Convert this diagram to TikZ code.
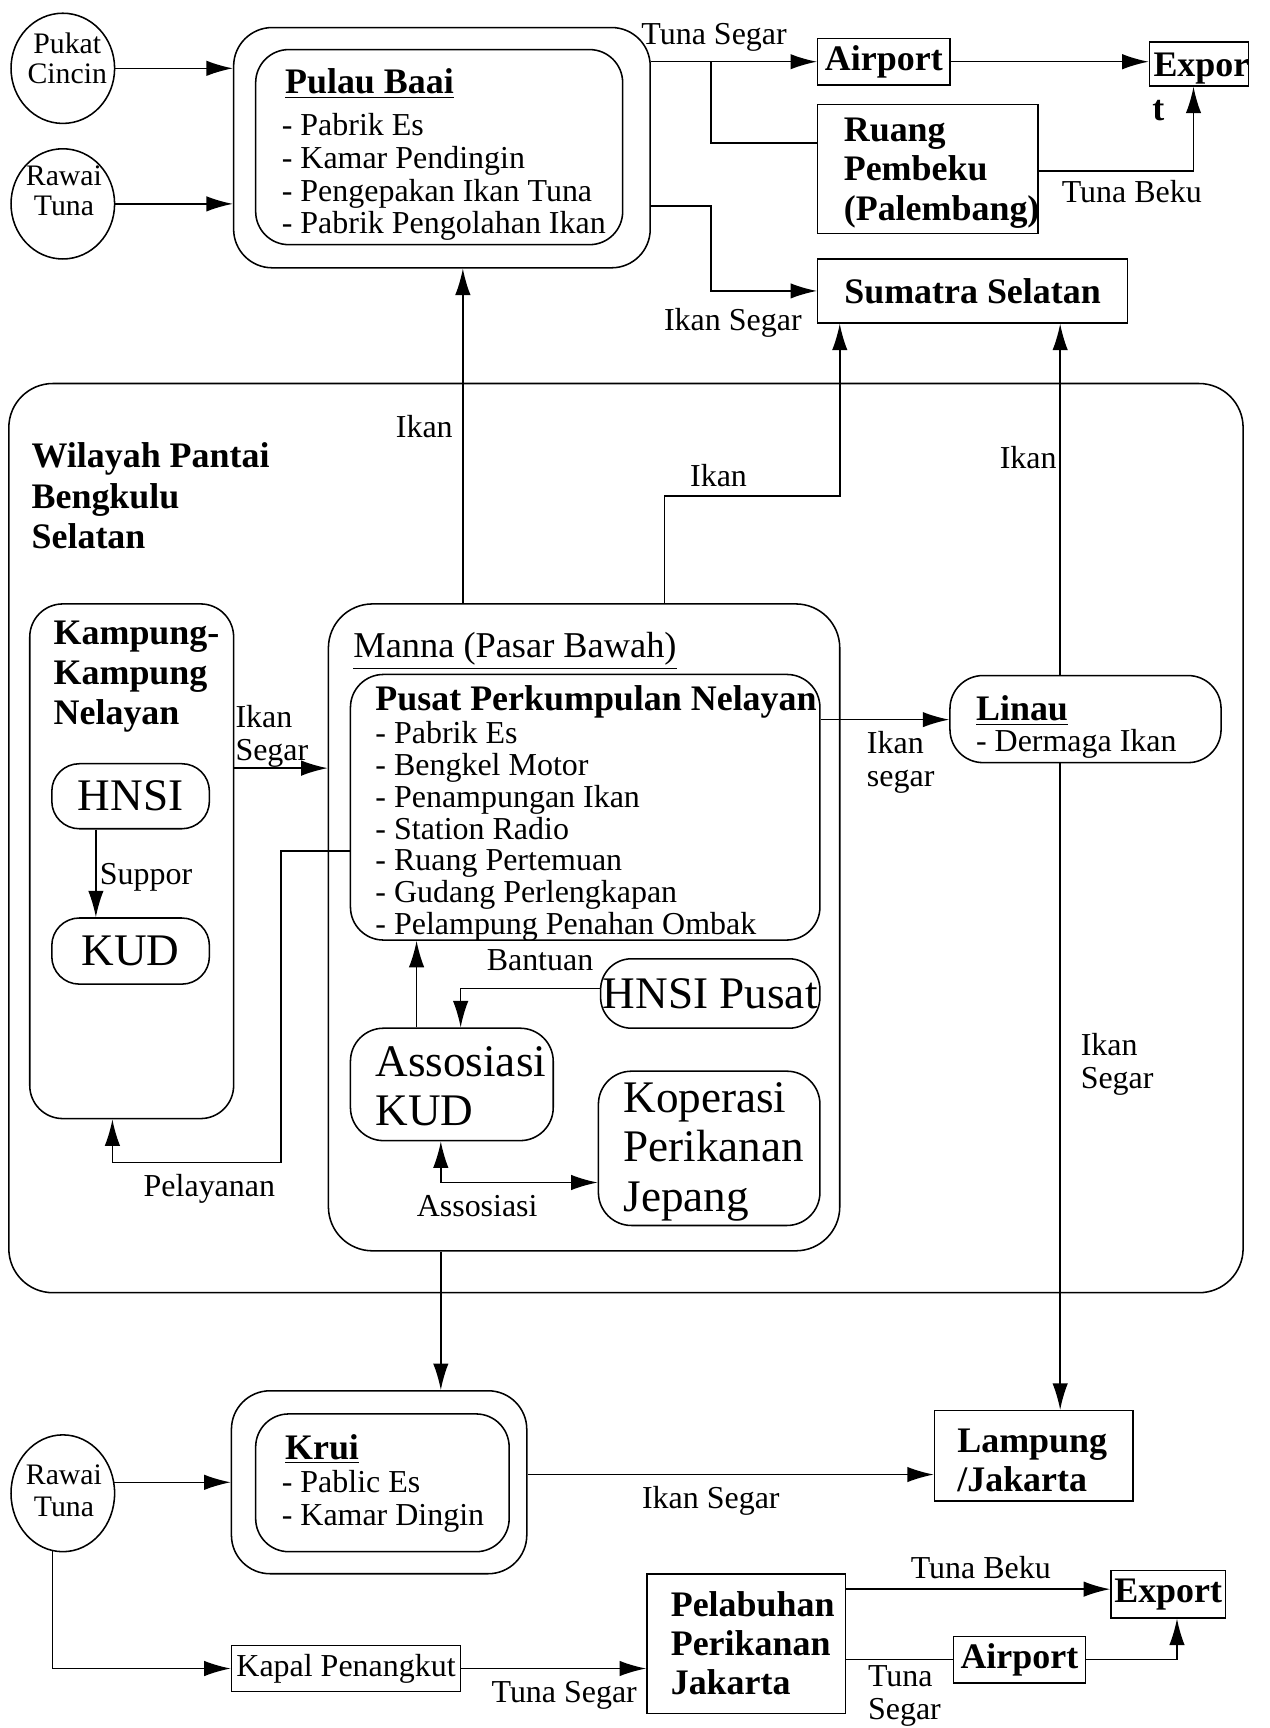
\documentclass[tikz,border=0pt]{standalone}
\usepackage{fontspec}
\setmainfont{Liberation Serif}
\usetikzlibrary{arrows.meta,shapes.geometric}

\begin{document}
\begin{tikzpicture}[x=0.5pt,y=-0.5pt,line width=0.7pt,
  arr/.style={-{Latex[length=12pt,width=7pt]}},
  lbl/.style={font=\fontsize{14.5}{15}\selectfont, inner sep=0pt, text height=10pt, text depth=3pt},
  mlbl/.style={font=\fontsize{14.5}{15}\selectfont, inner sep=0pt, align=left},
  bld/.style={font=\fontsize{16.3}{17.8}\selectfont\bfseries, inner sep=0pt, align=left},
  big/.style={font=\fontsize{20.5}{22.5}\selectfont, inner sep=0pt, align=left},
  rbox/.style={draw, rounded corners=15pt, inner sep=0pt},
  sbox/.style={draw, rectangle, inner sep=0pt},
  oval/.style={draw, ellipse, inner sep=0pt, minimum width=47pt, minimum height=50pt}]
  \useasboundingbox (0,0) rectangle (1152,1568);

  % Draw the coastal region
  \node[rbox, rounded corners=20pt, minimum width=560pt, minimum height=412.5pt] (wilayah) at (568,760.5) {};
  \node[bld, font=\fontsize{16.3}{18.5}\selectfont\bfseries, anchor=west] (wilayahTxt) at (28,450) {Wilayah Pantai\\Bengkulu\\Selatan};

  % Pulau Baai and what feeds it
  \node[oval] (pukat) at (57,62) {};
  \node[mlbl, font=\fontsize{13.5}{13.5}\selectfont, align=center] (pukatTxt) at (61,53) {Pukat\\Cincin};
  \node[oval] (rawaiA) at (57,185) {};
  \node[mlbl, font=\fontsize{13.5}{13.5}\selectfont, align=center] (rawaiATxt) at (58,173) {Rawai\\Tuna};
  \node[rbox, rounded corners=17.5pt, minimum width=189pt, minimum height=109pt] (pulauOut) at (401,134) {};
  \node[rbox, minimum width=166.5pt, minimum height=88.5pt] (pulauIn) at (398.5,133.5) {};
  \node[bld, anchor=west] (pulauTxt) at (258,76) {\underline{Pulau Baai}};
  \foreach \fac [count=\i] in {Pabrik Es, Kamar Pendingin, Pengepakan Ikan Tuna, Pabrik Pengolahan Ikan}
    \node[lbl, anchor=west] (pulauItem\i) at (255,{116+29.7*(\i-1)}) {- \fac};
  \draw[arr] (pukat) -- (pukat -| pulauOut.west);
  \draw[arr] (rawaiA) -- (rawaiA -| pulauOut.west);

  % Top right boxes
  \node[sbox, bld, minimum width=60pt, minimum height=21pt] (airportA) at (802,56) {Airport};
  \node[sbox, minimum width=45pt, minimum height=20pt] (exporA) at (1088,58) {};
  \node[bld, anchor=west] (exporTxt) at (1046,62) {Expor};
  \node[bld] (exporT) at (1051,100) {t};
  \node[sbox, minimum width=100pt, minimum height=58.5pt] (ruang) at (842,153.5) {};
  \node[bld, anchor=west] (ruangTxt) at (765,157) {Ruang\\Pembeku\\(Palembang)};
  \node[sbox, bld, minimum width=140.5pt, minimum height=29pt] (sumatra) at (882.5,264) {Sumatra Selatan};

  \draw[arr] (pulauOut.east |- airportA) -- (airportA.west);
  \node[lbl] (tunaSegarA) at (648,33) {Tuna Segar};
  \draw (airportA.west -| 645,0) |- (ruang.west |- 0,130);
  \draw[arr] (airportA.east) -- (airportA.east -| exporA.west);
  \draw[arr] (ruang.east |- 0,155) -| (exporA.south -| 1083,0);
  \node[lbl] (tunaBekuA) at (1027,177) {Tuna Beku};
  \draw[arr] (pulauOut.east |- 0,187) -| (sumatra.west -| 645,0) -- (sumatra.west);
  \node[lbl] (ikanSegarA) at (665,293) {Ikan Segar};

  % Kampung nelayan
  \node[rbox, minimum width=92.5pt, minimum height=233.5pt] (kampung) at (119.5,781.5) {};
  \node[bld, font=\fontsize{16.3}{18}\selectfont\bfseries, anchor=west] (kampungTxt) at (48,614) {Kampung-\\Kampung\\Nelayan};
  \node[rbox, rounded corners=12.5pt, big, minimum width=71.5pt, minimum height=29.5pt] (hnsi) at (118.5,722.5) {HNSI};
  \node[rbox, rounded corners=12.5pt, big, minimum width=71.5pt, minimum height=30pt] (kud) at (118.5,863) {KUD};
  \draw[arr] (hnsi.south -| 87,0) -- (kud.north -| 87,0);
  \node[lbl, anchor=west] (supporTxt) at (90,796) {Suppor};

  % Manna
  \node[rbox, rounded corners=20pt, minimum width=232pt, minimum height=293.5pt] (manna) at (530,841.5) {};
  \node[lbl, font=\fontsize{16.5}{18}\selectfont, anchor=west] (mannaTxt) at (320,590) {\underline{Manna (Pasar Bawah)}};
  \node[rbox, minimum width=213pt, minimum height=120.5pt] (pusat) at (531,732.5) {};
  \node[bld, anchor=west] (pusatTxt) at (340,637) {Pusat Perkumpulan Nelayan};
  \foreach \fac [count=\i] in {Pabrik Es, Bengkel Motor, Penampungan Ikan, Station Radio, Ruang Pertemuan, Gudang Perlengkapan, Pelampung Penahan Ombak}
    \node[lbl, anchor=west] (pusatItem\i) at (340,{668+28.8*(\i-1)}) {- \fac};
  \node[rbox, rounded corners=14pt, big, minimum width=99.5pt, minimum height=31.5pt] (hnsiPusat) at (644.5,901.5) {HNSI Pusat};
  \node[rbox, minimum width=92pt, minimum height=51pt] (assos) at (410,984) {};
  \node[big, anchor=west] (assosTxt) at (340,985.5) {Assosiasi\\KUD};
  \node[rbox, minimum width=100.5pt, minimum height=70pt] (koperasi) at (643.5,1042) {};
  \node[big, anchor=west] (koperasiTxt) at (565,1045) {Koperasi\\Perikanan\\Jepang};

  % Linau
  \node[rbox, minimum width=123pt, minimum height=39.5pt] (linau) at (985,652.5) {};
  \node[bld, anchor=west] (linauTxt) at (885,645) {\underline{Linau}};
  \node[lbl, anchor=west] (linauItem) at (885,675) {- Dermaga Ikan};

  % Flows out of the region
  \draw[arr] (manna.north -| 420,0) -- (pulauOut.south -| 420,0);
  \node[lbl] (ikanA) at (385,390) {Ikan};
  \draw[arr] (manna.north -| 603,0) |- (762,450) -- (sumatra.south -| 762,0);
  \node[lbl] (ikanB) at (652,434) {Ikan};
  \draw[arr] (linau.north -| 962,0) -- (sumatra.south -| 962,0);
  \node[lbl] (ikanC) at (933,418) {Ikan};

  % Flows inside the region
  \draw[arr] (kampung.east |- 0,697) -- (manna.west |- 0,697);
  \node[mlbl, anchor=west] (ikanSegarB) at (213,668) {Ikan\\Segar};
  \draw[arr] (pusat.west |- 0,772) -| (255,1055) -| (kampung.south -| 102,0);
  \node[lbl] (pelayananTxt) at (190,1079) {Pelayanan};
  \draw[arr] (pusat.east |- 0,653) -- (linau.west |- 0,653);
  \node[mlbl, anchor=west] (ikanSegarC) at (786,692) {Ikan\\segar};
  \draw[arr] (hnsiPusat.west |- 0,897) -| (assos.north -| 418,0);
  \node[lbl] (bantuanTxt) at (490,874) {Bantuan};
  \draw[arr] (assos.north -| 378,0) -- (pusat.south -| 378,0);
  \draw[{Latex[length=12pt,width=7pt]}-{Latex[length=12pt,width=7pt]}] (assos.south -| 400,0) |- (koperasi.west |- 0,1073);
  \node[lbl] (assosiasiTxt) at (433,1097) {Assosiasi};

  % Krui
  \node[oval, minimum height=53pt] (rawaiB) at (57,1355) {};
  \node[mlbl, font=\fontsize{13.5}{14.5}\selectfont, align=center] (rawaiBTxt) at (58,1353) {Rawai\\Tuna};
  \node[rbox, rounded corners=17.5pt, minimum width=134pt, minimum height=83pt] (kruiOut) at (344,1345) {};
  \node[rbox, minimum width=115pt, minimum height=62.5pt] (kruiIn) at (347,1345.5) {};
  \node[bld, anchor=west] (kruiTxt) at (258,1315) {\underline{Krui}};
  \foreach \fac [count=\i] in {Pablic Es, Kamar Dingin}
    \node[lbl, anchor=west] (kruiItem\i) at (255,{1347+30*(\i-1)}) {- \fac};
  \draw[arr] (manna.south -| 400,0) -- (kruiOut.north -| 400,0);
  \draw[arr] (rawaiB.12) -- (rawaiB.12 -| kruiOut.west);

  \node[sbox, minimum width=90pt, minimum height=41pt] (lampung) at (938,1321) {};
  \node[bld, anchor=west] (lampungTxt) at (868,1325.5) {Lampung\\/Jakarta};
  \draw[arr] (linau.south -| 962,0) -- (lampung.north -| 962,0);
  \node[mlbl, anchor=west] (ikanSegarD) at (980,966) {Ikan\\Segar};
  \draw[arr] (kruiOut.east |- 0,1338) -- (lampung.west |- 0,1338);
  \node[lbl] (ikanSegarE) at (645,1362) {Ikan Segar};

  % Bottom row to Jakarta
  \node[sbox, lbl, minimum width=104pt, minimum height=21pt] (kapal) at (314,1514) {Kapal Penangkut};
  \node[sbox, minimum width=90pt, minimum height=63.5pt] (pelabuhan) at (677,1491.5) {};
  \node[bld, anchor=west] (pelabuhanTxt) at (608,1491) {Pelabuhan\\Perikanan\\Jakarta};
  \node[sbox, bld, minimum width=52pt, minimum height=21.5pt] (export) at (1060,1446.5) {Export};
  \node[sbox, bld, minimum width=60pt, minimum height=21pt] (airportB) at (925,1506) {Airport};
  \draw[arr] (rawaiB.-100) |- (kapal.west);
  \draw[arr] (kapal.east) -- (kapal.east -| pelabuhan.west);
  \node[lbl] (tunaSegarB) at (512,1538) {Tuna Segar};
  \draw[arr] (pelabuhan.east |- 0,1442) -- (export.west |- 0,1442);
  \node[lbl] (tunaBekuB) at (890,1425) {Tuna Beku};
  \draw (pelabuhan.east |- airportB) -- (airportB.west);
  \node[mlbl, anchor=west] (tunaSegarC) at (787,1539) {Tuna\\Segar};
  \draw[arr] (airportB.east) -| (export.south -| 1068,0);
\end{tikzpicture}
\end{document}
